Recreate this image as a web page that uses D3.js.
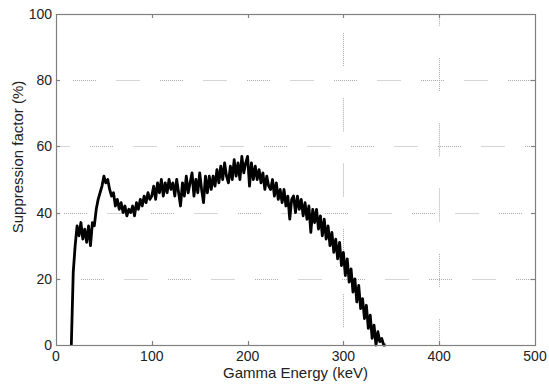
<!DOCTYPE html>
<html>
<head>
<meta charset="utf-8">
<script src="https://cdn.jsdelivr.net/npm/d3@7"></script>
<style>
  body { margin: 0; background: #fff; }
  text { font-family: "Liberation Sans", Arial, Helvetica, sans-serif; fill: #222; }
</style>
</head>
<body>
<div id="chart"></div>
<script>
// gamma energy (keV), 2 keV steps
var energy = d3.range(16, 346, 2);

// suppression factor (%)
var suppression = [
  0, 22, 30, 36, 33, 37, 32, 35, 31, 36,
  30, 37, 36, 41, 44, 46, 48, 51, 49, 50,
  47, 45, 46, 42, 44, 41, 43, 40, 42, 39,
  41, 40, 42, 39, 43, 41, 44, 42, 45, 43,
  46, 44,
  45, 48, 44, 49, 46, 50, 45, 49, 46, 50,
  47, 49, 45, 50, 46, 42, 49, 45, 51, 46,
  49, 52, 45, 50, 46, 52, 47, 43, 51, 46,
  51, 47, 51, 48, 53, 49, 54, 50, 55, 51,
  49, 54, 50, 56, 51, 55, 50, 57, 52, 55,
  57, 48, 55, 50, 54, 50, 53, 49, 52, 47,
  51, 48, 47, 50, 45, 49, 44, 47, 43, 47,
  42, 45, 38, 44, 45, 40, 45, 41, 44, 39,
  43, 38, 42, 34, 41, 37, 41, 35, 39, 33,
  38, 32, 36, 30, 34, 28, 32, 26, 31, 24,
  28, 21, 26, 19, 23, 16, 20, 13, 18, 11,
  14, 8, 12, 5, 9, 2, 6, 0, 4, 1,
  2, 0, 0
];

var xTicks = [0, 100, 200, 300, 400, 500];
var yTicks = [0, 20, 40, 60, 80, 100];
var xGridTicks = [300, 400];
var yGridTicks = [20, 40, 60, 80];

var width = 549, height = 388;
var plot = {left: 56, right: 535, top: 14, bottom: 345};

var x = d3.scaleLinear().domain([0, 500]).range([plot.left, plot.right]);
var y = d3.scaleLinear().domain([0, 100]).range([plot.bottom, plot.top]);

var svg = d3.select("#chart").append("svg")
    .attr("width", width)
    .attr("height", height);

// dotted dash made of 1px dots, then a longer gap
function dotted(dash, gap) {
  var arr = [];
  for (var i = 0; i < dash / 2; i++) arr.push(1, 1);
  arr[arr.length - 1] = gap;
  return arr;
}

var hDash = dotted(24, 20.5), hPeriod = d3.sum(hDash);
var hStart = {20: 81, 40: 64, 60: 90, 80: 73};
var vDash = dotted(33, 32.3), vPeriod = d3.sum(vDash);
var vStart = {300: 33, 400: 58};

var grid = svg.append("g").attr("class", "grid")
    .attr("stroke", "#aaa")
    .attr("stroke-width", 1)
    .attr("fill", "none");

grid.selectAll("line.h")
  .data(yGridTicks)
  .enter().append("line")
    .attr("class", "h")
    .attr("x1", plot.left)
    .attr("x2", plot.right)
    .attr("y1", function(d) { return Math.round(y(d)) + 0.5; })
    .attr("y2", function(d) { return Math.round(y(d)) + 0.5; })
    .attr("stroke-dasharray", hDash.join(" "))
    .attr("stroke-dashoffset", function(d) {
      return hPeriod - ((hStart[d] - plot.left) % hPeriod);
    });

grid.selectAll("line.v")
  .data(xGridTicks)
  .enter().append("line")
    .attr("class", "v")
    .attr("x1", function(d) { return Math.round(x(d)) + 0.5; })
    .attr("x2", function(d) { return Math.round(x(d)) + 0.5; })
    .attr("y1", plot.top)
    .attr("y2", plot.bottom)
    .attr("stroke-dasharray", vDash.join(" "))
    .attr("stroke-dashoffset", function(d) {
      return vPeriod - ((vStart[d] - plot.top) % vPeriod);
    });

// data line
var line = d3.line()
    .x(function(d, i) { return x(energy[i]); })
    .y(function(d) { return y(d); });

svg.append("path")
    .datum(suppression)
    .attr("d", line)
    .attr("fill", "none")
    .attr("stroke", "#000")
    .attr("stroke-width", 2.8)
    .attr("stroke-linejoin", "round");

// box
var axisColor = "#808080";
svg.append("rect")
    .attr("x", plot.left + 0.5)
    .attr("y", plot.top + 0.5)
    .attr("width", plot.right - plot.left)
    .attr("height", plot.bottom - plot.top)
    .attr("fill", "none")
    .attr("stroke", axisColor)
    .attr("stroke-width", 1.2);

// inward ticks on all four sides
var tickLen = 4;
var ticks = svg.append("g").attr("stroke", axisColor).attr("stroke-width", 1.2);
xTicks.slice(1, -1).forEach(function(t) {
  var px = Math.round(x(t)) + 0.5;
  ticks.append("line").attr("x1", px).attr("x2", px)
    .attr("y1", plot.bottom).attr("y2", plot.bottom - tickLen);
  ticks.append("line").attr("x1", px).attr("x2", px)
    .attr("y1", plot.top).attr("y2", plot.top + tickLen);
});
yTicks.slice(1, -1).forEach(function(t) {
  var py = Math.round(y(t)) + 0.5;
  ticks.append("line").attr("x1", plot.left).attr("x2", plot.left + tickLen)
    .attr("y1", py).attr("y2", py);
  ticks.append("line").attr("x1", plot.right).attr("x2", plot.right - tickLen)
    .attr("y1", py).attr("y2", py);
});

// tick labels
svg.append("g").selectAll("text")
  .data(xTicks)
  .enter().append("text")
    .attr("x", function(d) { return x(d); })
    .attr("y", plot.bottom + 16)
    .attr("text-anchor", "middle")
    .style("font-size", "14px")
    .text(function(d) { return d; });

svg.append("g").selectAll("text")
  .data(yTicks)
  .enter().append("text")
    .attr("x", plot.left - 4)
    .attr("y", function(d) { return y(d) + 5; })
    .attr("text-anchor", "end")
    .style("font-size", "14px")
    .text(function(d) { return d; });

// axis titles
svg.append("text")
    .attr("x", (plot.left + plot.right) / 2)
    .attr("y", 378)
    .attr("text-anchor", "middle")
    .style("font-size", "15px")
    .text("Gamma Energy (keV)");

svg.append("text")
    .attr("transform", "translate(23," + 157 + ") rotate(-90)")
    .attr("text-anchor", "middle")
    .style("font-size", "15px")
    .text("Suppression factor (%)");
</script>
</body>
</html>
